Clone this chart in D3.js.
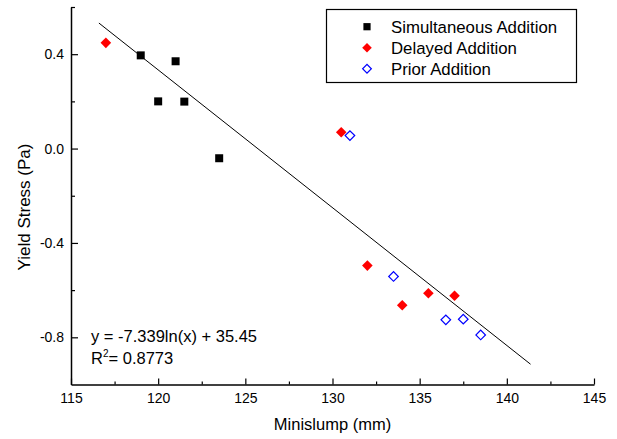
<!DOCTYPE html>
<html>
<head>
<meta charset="utf-8">
<script src="https://cdn.jsdelivr.net/npm/d3@7"></script>
<style>
  body { margin: 0; background: #fff; }
  text { font-family: "Liberation Sans", Arial, sans-serif; fill: #000; }
</style>
</head>
<body>
<div id="chart"></div>
<script>
// data
var simX = [119, 120, 121, 121.5, 123.5];
var simY = [0.395, 0.20, 0.37, 0.199, -0.041];
var delX = [117, 130.5, 132, 134, 135.5, 137];
var delY = [0.448, 0.069, -0.496, -0.664, -0.613, -0.624];
var priX = [131, 133.5, 136.5, 137.5, 138.5];
var priY = [0.055, -0.542, -0.726, -0.723, -0.79];

var seriesNames = ["Simultaneous Addition", "Delayed Addition", "Prior Addition"];

// trend line ends, as drawn in the picture
var fitX = [116.6, 141.36];
var fitY = [0.532, -0.914];

var xMajor = [115, 120, 125, 130, 135, 140, 145];
var xMinor = [117.5, 122.5, 127.5, 132.5, 137.5, 142.5];
var yMajor = [-0.8, -0.4, 0.0, 0.4];
var yMinor = [-0.6, -0.2, 0.2, 0.6];

var W = 617, H = 439;
var x = d3.scaleLinear().domain([115, 145]).range([71, 594]);
var y = d3.scaleLinear().domain([-1.0, 0.6]).range([384.5, 7]);

var svg = d3.select("#chart").append("svg")
    .attr("width", W).attr("height", H);

// axes - ticks point inward
svg.append("g")
    .attr("transform", "translate(0," + y(-1.0) + ")")
    .call(d3.axisBottom(x).tickValues(xMajor).tickSize(-6).tickSizeOuter(0).tickPadding(9)
        .tickFormat(function(d){ return d; }));
svg.append("g")
    .attr("transform", "translate(0," + y(-1.0) + ")")
    .call(d3.axisBottom(x).tickValues(xMinor).tickSize(-3).tickSizeOuter(0).tickFormat(""))
    .select(".domain").remove();

svg.append("g")
    .attr("transform", "translate(" + x(115) + ",0)")
    .call(d3.axisLeft(y).tickValues(yMajor).tickSize(-7).tickSizeOuter(0).tickPadding(7)
        .tickFormat(function(d){ return d.toFixed(1); }));
svg.append("g")
    .attr("transform", "translate(" + x(115) + ",0)")
    .call(d3.axisLeft(y).tickValues(yMinor).tickSize(-4).tickSizeOuter(0).tickFormat(""))
    .select(".domain").remove();

svg.selectAll(".domain").attr("stroke", "#000").attr("stroke-width", 1.5);
svg.selectAll(".tick line").attr("stroke", "#000").attr("stroke-width", 1.2);
svg.selectAll(".tick text").style("font-size", "14px").attr("fill", "#000");

// axis titles
svg.append("text")
    .attr("x", (x(115) + x(145)) / 2).attr("y", 430)
    .attr("text-anchor", "middle")
    .style("font-size", "16.5px")
    .text("Minislump (mm)");
svg.append("text")
    .attr("transform", "translate(30,207) rotate(-90)")
    .attr("text-anchor", "middle")
    .style("font-size", "17px")
    .text("Yield Stress (Pa)");

// fit line
var fitLine = d3.line()
    .x(function(d){ return x(d[0]); })
    .y(function(d){ return y(d[1]); });
svg.append("path")
    .datum(fitX.map(function(v, i){ return [v, fitY[i]]; }))
    .attr("d", fitLine)
    .attr("fill", "none")
    .attr("stroke", "#000")
    .attr("stroke-width", 1);

// markers
var square = d3.symbol().type(d3.symbolSquare).size(64);
var diamond = d3.symbol().type(d3.symbolSquare).size(56);
var diamondOpen = d3.symbol().type(d3.symbolSquare).size(46);

function zip(xs, ys) { return xs.map(function(v, i){ return [v, ys[i]]; }); }

svg.append("g").selectAll("path")
    .data(zip(simX, simY)).enter().append("path")
    .attr("d", square)
    .attr("transform", function(d){ return "translate(" + x(d[0]) + "," + y(d[1]) + ")"; })
    .attr("fill", "#000");

svg.append("g").selectAll("path")
    .data(zip(delX, delY)).enter().append("path")
    .attr("d", diamond)
    .attr("transform", function(d){ return "translate(" + x(d[0]) + "," + y(d[1]) + ") rotate(45)"; })
    .attr("fill", "#ff0000");

svg.append("g").selectAll("path")
    .data(zip(priX, priY)).enter().append("path")
    .attr("d", diamondOpen)
    .attr("transform", function(d){ return "translate(" + x(d[0]) + "," + y(d[1]) + ") rotate(45)"; })
    .attr("fill", "none")
    .attr("stroke", "#0000ff")
    .attr("stroke-width", 1.2);

// annotation
var ann = svg.append("g").style("font-size", "16.5px");
ann.append("text").attr("x", 91).attr("y", 341.5).text("y = -7.339ln(x) + 35.45");
var r2 = ann.append("text").attr("x", 91).attr("y", 364);
r2.append("tspan").text("R");
r2.append("tspan").attr("dy", -7).style("font-size", "10px").text("2");
r2.append("tspan").attr("dy", 7).text("= 0.8773");

// legend
var leg = svg.append("g");
leg.append("rect")
    .attr("x", 326.5).attr("y", 9.5).attr("width", 250).attr("height", 73)
    .attr("fill", "#fff").attr("stroke", "#000").attr("stroke-width", 1.2);
var rowsY = [26.7, 47.7, 68.7];
var legItems = leg.selectAll(".item")
    .data(seriesNames).enter().append("g")
    .attr("transform", function(d, i){ return "translate(367," + rowsY[i] + ")"; });
legItems.append("path")
    .attr("d", function(d, i){ return d3.symbol().type(d3.symbolSquare).size(i === 0 ? 52 : i === 1 ? 46 : 38)(); })
    .attr("transform", function(d, i){ return i === 0 ? null : "rotate(45)"; })
    .attr("fill", function(d, i){ return i === 0 ? "#000" : i === 1 ? "#ff0000" : "none"; })
    .attr("stroke", function(d, i){ return i === 2 ? "#0000ff" : null; })
    .attr("stroke-width", 1.2);
legItems.append("text")
    .attr("x", 24).attr("y", 6)
    .style("font-size", "16.8px")
    .text(function(d){ return d; });
</script>
</body>
</html>
